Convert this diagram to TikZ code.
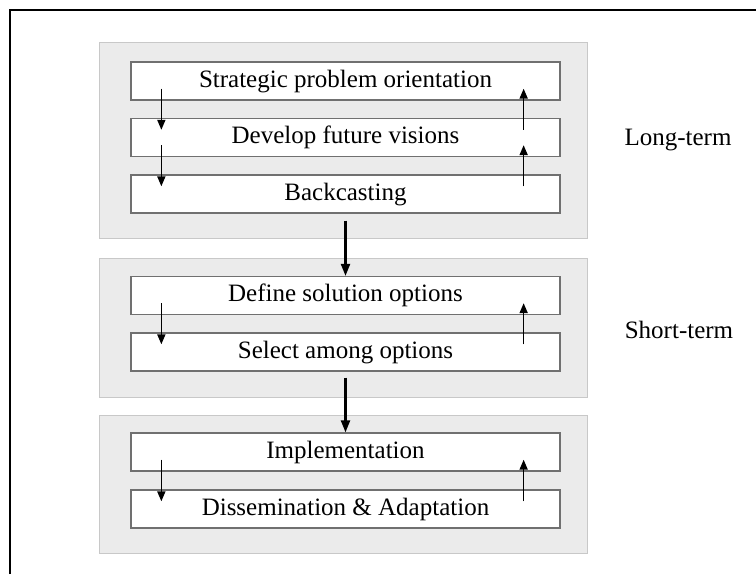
\documentclass[tikz,border=0pt]{standalone}
\usepackage{fontspec}
\setmainfont{Liberation Serif}
\usetikzlibrary{arrows.meta,calc}
\definecolor{grpfill}{RGB}{235,235,235}
\definecolor{grpline}{RGB}{200,200,200}
\definecolor{boxline}{RGB}{112,112,112}
\begin{document}
\begin{tikzpicture}[x=1pt,y=-1pt,
  grp/.style={fill=grpfill,draw=grpline,line width=1pt},
  stepbox/.style={draw=boxline,fill=white,line width=1.3pt,minimum width=429pt,minimum height=38pt,inner sep=0pt,text height=16pt,text depth=4pt,font=\fontsize{25}{28}\selectfont},
  lbl/.style={font=\fontsize{25}{28}\selectfont,inner sep=0pt},
  arr/.style={line width=1.6pt,-{Triangle[length=10pt,width=8pt]}},
  bigarr/.style={line width=2.2pt,-{Triangle[length=12pt,width=9pt]}}]
\useasboundingbox (0,0) rectangle (756,574);
\fill[white] (0,0) rectangle (756,574);
% frame
\coordinate (fbl) at (10,574);
\coordinate (ftl) at (10,10);
\coordinate (ftr) at (756,10);
\draw[line width=2pt] (fbl) -- (ftl) -- (ftr);
% groups
\draw[grp] (99,42) rectangle (587,238);
\draw[grp] (99,258) rectangle (587,397);
\draw[grp] (99,415) rectangle (587,553);
% boxes
\node[stepbox] (b1) at (345.5,81) {Strategic problem orientation};
\node[stepbox] (b2) at (345.5,137.5) {Develop future visions};
\node[stepbox] (b3) at (345.5,194) {Backcasting};
\node[stepbox] (b4) at (345.5,295.5) {Define solution options};
\node[stepbox] (b5) at (345.5,352) {Select among options};
\node[stepbox] (b6) at (345.5,452) {Implementation};
\node[stepbox] (b7) at (345.5,509) {Dissemination \& Adaptation};
% labels
\node[lbl] (lt) at (678,140) {Long-term};
\node[lbl] (st) at (679,330) {Short-term};
% small arrows
\foreach \a/\b in {b1/b2,b2/b3,b4/b5,b6/b7}{
  \draw[arr] ($(\a.south west)+(31,-12)$) -- ($(\b.north west)+(31,12)$);
  \draw[arr] ($(\b.north east)+(-37,12)$) -- ($(\a.south east)+(-37,-12)$);
}
% big arrows
\draw[bigarr] ($(b3.south)+(0,7)$) -- (b4.north);
\draw[bigarr] ($(b5.south)+(0,6)$) -- (b6.north);
\end{tikzpicture}
\end{document}
